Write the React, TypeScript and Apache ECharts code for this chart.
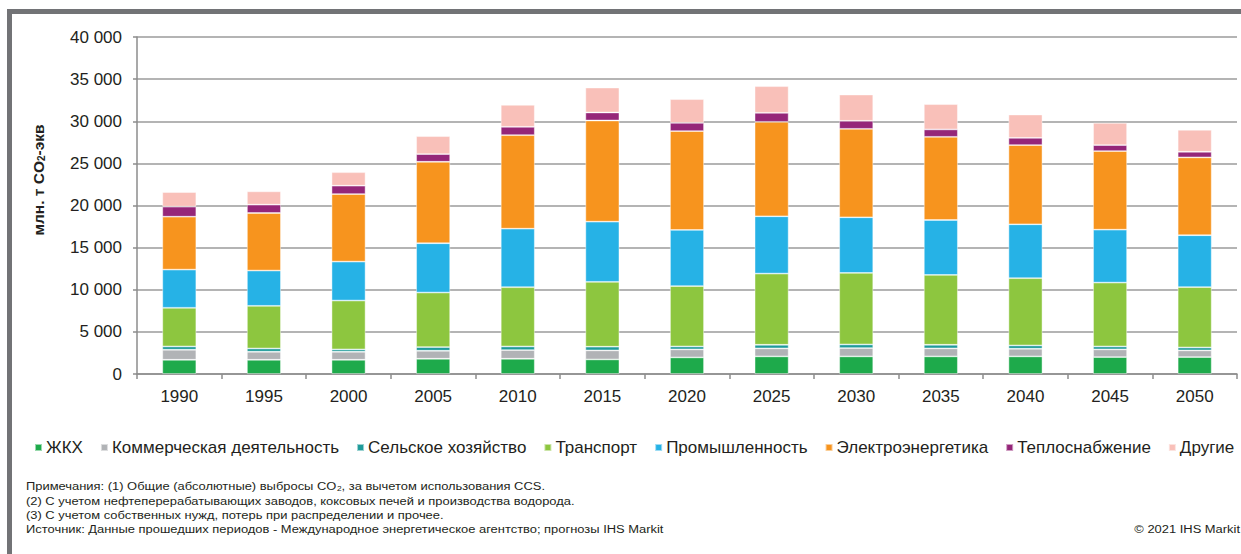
import React, { useEffect, useRef } from "react";
import * as echarts from "echarts";

// Years on the category axis
const years = ["1990", "1995", "2000", "2005", "2010", "2015", "2020", "2025", "2030", "2035", "2040", "2045", "2050"];

// Emissions by sector, млн. т CO2-экв
const housing = [1690, 1690, 1690, 1810, 1810, 1730, 1970, 2090, 2090, 2090, 2090, 2010, 2010];
const commercial = [1190, 950, 950, 950, 1030, 1070, 950, 950, 990, 950, 910, 910, 790];
const agriculture = [390, 390, 280, 440, 430, 440, 350, 430, 430, 430, 390, 350, 350];
const transport = [4590, 5060, 5800, 6470, 7030, 7700, 7160, 8450, 8490, 8290, 7980, 7580, 7160];
const industry = [4530, 4190, 4620, 5850, 6950, 7140, 6670, 6800, 6600, 6520, 6400, 6280, 6160];
const power = [6280, 6830, 8020, 9670, 11100, 12010, 11730, 11210, 10500, 9870, 9400, 9330, 9240];
const heat = [1190, 990, 990, 910, 990, 950, 980, 1070, 950, 880, 860, 710, 670];
const other = [1740, 1580, 1600, 2130, 2610, 2960, 2810, 3160, 3120, 3000, 2770, 2640, 2610];

const seriesNames = [
  "ЖКХ",
  "Коммерческая деятельность",
  "Сельское хозяйство",
  "Транспорт",
  "Промышленность",
  "Электроэнергетика",
  "Теплоснабжение",
  "Другие",
];
const seriesData = [housing, commercial, agriculture, transport, industry, power, heat, other];
const seriesColors = ["#1eaa4b", "#b1b3b6", "#1f9b9a", "#8dc63f", "#26b2e6", "#f7941e", "#952679", "#f9c0b9"];

const noteLines = [
  "{t|Примечания: (1) Общие (абсолютные) выбросы CO}{s|2}{t|, за вычетом использования CCS.}",
  "{t|(2) С учетом нефтеперерабатывающих заводов, коксовых печей и производства водорода.}",
  "{t|(3) С учетом собственных нужд, потерь при распределении и прочее.}",
  "{t|Источник: Данные прошедших периодов - Международное энергетическое агентство; прогнозы IHS Markit}",
];

const FONT = "'Liberation Sans', Arial, sans-serif";
const TEXT = "#231f20";

export default function App() {
  const ref = useRef<HTMLDivElement>(null);

  useEffect(() => {
    if (!ref.current) return;
    const chart = echarts.init(ref.current, undefined, { renderer: "svg" });

    const noteRich = {
      t: { fontSize: 11.5, fontFamily: FONT, fill: TEXT, lineHeight: 14 },
      s: { fontSize: 7.5, fontFamily: FONT, fill: TEXT, padding: [5, 0, 0, 0], lineHeight: 14 },
    };

    const option: any = {
      animation: false,
      backgroundColor: "#ffffff",
      textStyle: { fontFamily: FONT },
      grid: { left: 137, right: 4, top: 37, bottom: 180, containLabel: false },
      legend: {
        left: 29,
        top: 434,
        width: 2000,
        itemWidth: 7,
        itemHeight: 7,
        itemGap: 17,
        icon: "rect",
        textStyle: { fontSize: 17, color: TEXT, fontFamily: FONT, padding: [0, 0, 0, -1] },
        data: seriesNames,
      },
      xAxis: {
        type: "category",
        data: years,
        axisLine: { lineStyle: { color: "#8c8c8c", width: 1.5 } },
        axisTick: { show: true, length: 5, lineStyle: { color: "#8c8c8c", width: 1.5 } },
        axisLabel: { fontSize: 17, color: TEXT, margin: 13.5, fontFamily: FONT },
      },
      yAxis: {
        type: "value",
        min: 0,
        max: 40000,
        interval: 5000,
        axisLine: { show: true, lineStyle: { color: "#8c8c8c", width: 1.5 } },
        axisTick: { show: true, length: 4, lineStyle: { color: "#8c8c8c", width: 1.5 } },
        splitLine: { lineStyle: { color: "#9b9b9b", width: 1.6 } },
        axisLabel: {
          fontSize: 17,
          color: TEXT,
          margin: 15,
          fontFamily: FONT,
          formatter: (v: number) => String(v).replace(/\B(?=(\d{3})+(?!\d))/g, " "),
        },
      },
      series: seriesNames.map((name, i) => ({
        name,
        type: "bar",
        stack: "total",
        barWidth: 34,
        data: seriesData[i],
        itemStyle: { color: seriesColors[i], borderColor: "rgba(255,255,255,0.55)", borderWidth: 0.8 },
      })),
      graphic: [
        // outer frame
        {
          type: "rect",
          shape: { x: 9.5, y: 11.5, width: 1400, height: 700 },
          style: { fill: "none", stroke: "#727376", lineWidth: 5 },
          silent: true,
        },
        // y axis title
        {
          type: "text",
          x: 38,
          y: 180,
          rotation: Math.PI / 2,
          style: {
            text: "{a|млн. т CO}{b|2}{a|-экв}",
            align: "center",
            verticalAlign: "middle",
            rich: {
              a: { fontSize: 15.5, fontWeight: "bold", fontFamily: FONT, fill: TEXT, lineHeight: 20 },
              b: { fontSize: 10, fontWeight: "bold", fontFamily: FONT, fill: TEXT, padding: [7, 0, 0, 0], lineHeight: 20 },
            },
          },
        },
        // notes block
        {
          type: "group",
          x: 26,
          y: 479.5,
          scaleX: 1.125,
          children: noteLines.map((line, i) => ({
            type: "text",
            x: 0,
            y: i * 14.4,
            style: { text: line, rich: noteRich, align: "left", verticalAlign: "top" },
          })),
        },
        {
          type: "group",
          x: 1240,
          y: 523.5,
          scaleX: 1.125,
          children: [
            {
              type: "text",
              x: 0,
              y: 0,
              style: { text: "© 2021 IHS Markit", fontSize: 11.5, fontFamily: FONT, fill: TEXT, align: "right", verticalAlign: "top" },
            },
          ],
        },
      ],
    };

    chart.setOption(option);
    return () => chart.dispose();
  }, []);

  return (
    <div
      ref={ref}
      style={{ position: "absolute", left: 0, top: 0, width: 1241, height: 554, background: "#fff" }}
    />
  );
}
